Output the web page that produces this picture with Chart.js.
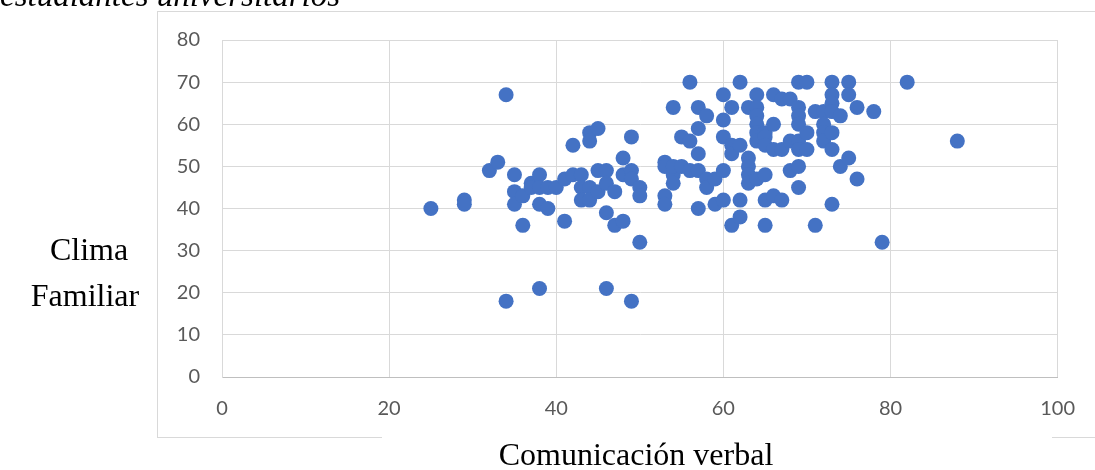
<!DOCTYPE html>
<html>
<head>
<meta charset="utf-8">
<script src="https://cdn.jsdelivr.net/npm/chart.js@4"></script>
<style>
  html, body { margin: 0; padding: 0; background: #fff; }
  #wrap { width: 1095px; height: 470px; }
</style>
</head>
<body>
<div id="wrap"><canvas id="scatterChart" width="1095" height="470"></canvas></div>
<script>
// comunicación verbal (x) vs clima familiar (y)
const verbal = [
    25, 29, 29, 32, 33, 34, 34, 35, 35, 35, 36, 36, 37, 37, 38, 38, 38, 38, 39, 39,
    40, 41, 41, 42, 42, 43, 43, 43, 44, 44, 44, 44, 45, 45, 45, 46, 46, 46, 46, 47,
    47, 48, 48, 48, 49, 49, 49, 49, 50, 50, 50,
    53, 53, 53, 53, 54, 54, 54, 54, 55, 55, 56, 56, 56, 57, 57, 57, 57, 57, 58, 58,
    58, 59, 59, 60, 60, 60, 60, 60, 61, 61, 61, 61, 62, 62, 62, 62, 63, 63, 63, 63,
    63, 64, 64, 64, 64, 64, 64, 64, 65, 65, 65, 65, 65, 65, 66, 66, 66, 66, 67, 67,
    67, 68, 68, 68,
    69, 69, 69, 69, 69, 69, 69, 69, 70, 70, 70, 71, 71, 72, 72, 72, 72, 73, 73, 73,
    73, 73, 73, 73, 74, 74, 75, 75, 75, 76, 76, 78, 79, 82, 88
];
const clima = [
    40, 42, 41, 49, 51, 67, 18, 48, 44, 41, 43, 36, 46, 45, 48, 45, 41, 21, 45, 40,
    45, 47, 37, 48, 55, 48, 45, 42, 58, 56, 45, 42, 59, 49, 44, 49, 46, 39, 21, 44,
    36, 52, 48, 37, 57, 49, 47, 18, 45, 43, 32,
    51, 50, 43, 41, 64, 48, 46, 50, 57, 50, 70, 56, 49, 64, 59, 53, 49, 40, 62, 47,
    45, 47, 41, 67, 61, 57, 49, 42, 64, 55, 53, 36, 70, 55, 42, 38, 64, 52, 50, 48,
    46, 67, 64, 62, 60, 58, 56, 47, 58, 57, 55, 48, 42, 36, 67, 60, 54, 43, 66, 54,
    42, 66, 56, 49,
    70, 64, 62, 60, 56, 54, 50, 45, 70, 58, 54, 63, 36, 63, 60, 58, 56, 70, 67, 65,
    63, 58, 54, 41, 62, 50, 70, 67, 52, 64, 47, 63, 32, 70, 56
];

const xTicks = { min: 0, max: 100, step: 20 };
const yTicks = { min: 0, max: 80, step: 10 };

const titleText = "estudiantes universitarios";
const yTitle = ["Clima", "Familiar"];
const xTitle = "Comunicación verbal";

const points = verbal.map((v, i) => ({ x: v, y: clima[i] }));

// frame behind the chart and the loose text boxes on top of it
const decorations = {
    id: 'decorations',
    beforeDraw(chart) {
        const ctx = chart.ctx;
        ctx.save();
        ctx.fillStyle = '#fff';
        ctx.fillRect(0, 0, chart.width, chart.height);
        ctx.strokeStyle = '#d9d9d9';
        ctx.lineWidth = 1;
        ctx.strokeRect(157.5, 11.5, 1000, 426);
        ctx.restore();
    },
    afterDraw(chart) {
        const ctx = chart.ctx;
        ctx.save();
        // white text box under the x title hides part of the frame
        ctx.fillStyle = '#fff';
        ctx.fillRect(382, 430, 670, 40);
        ctx.fillStyle = '#000';
        ctx.font = 'italic 33px "Liberation Serif"';
        ctx.textBaseline = 'alphabetic';
        ctx.textAlign = 'left';
        ctx.fillText(titleText, 0, 6);
        ctx.font = '32px "Liberation Serif"';
        ctx.textAlign = 'center';
        ctx.textBaseline = 'middle';
        ctx.fillText(yTitle[0], 89, 252);
        ctx.fillText(yTitle[1], 85, 298);
        ctx.fillText(xTitle, 636, 457);
        ctx.restore();
    }
};

const ctx = document.getElementById("scatterChart").getContext("2d");
const scatterChart = new Chart(ctx, {
    type: 'scatter',
    data: {
        datasets: [{
            data: points,
            backgroundColor: '#4472C4',
            borderColor: '#4472C4',
            borderWidth: 0,
            pointRadius: 7.5,
            pointHoverRadius: 7.5
        }]
    },
    options: {
        responsive: false,
        animation: false,
        layout: { padding: { left: 157, top: 40, right: 37, bottom: 0 } },
        plugins: {
            legend: { display: false },
            tooltip: { enabled: false }
        },
        scales: {
            x: {
                min: xTicks.min,
                max: xTicks.max,
                afterFit: scale => { scale.height = 93; },
                ticks: {
                    stepSize: xTicks.step,
                    padding: 20,
                    color: '#595959',
                    font: { family: 'Lato', size: 20 }
                },
                grid: { color: '#d9d9d9', lineWidth: 1, drawTicks: false },
                border: { color: '#bfbfbf', width: 1 }
            },
            y: {
                min: yTicks.min,
                max: yTicks.max,
                afterFit: scale => { scale.width = 65; },
                ticks: {
                    stepSize: yTicks.step,
                    padding: 22,
                    color: '#595959',
                    font: { family: 'Lato', size: 20 }
                },
                grid: { color: '#d9d9d9', lineWidth: 1, drawTicks: false },
                border: { color: '#d9d9d9', width: 1 }
            }
        }
    },
    plugins: [decorations]
});
</script>
</body>
</html>
